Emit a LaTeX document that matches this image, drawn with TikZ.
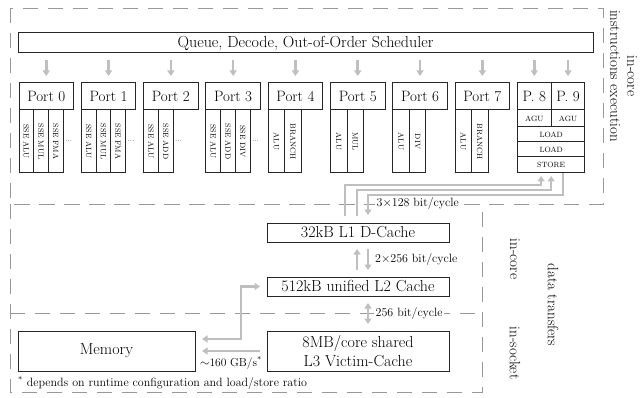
\documentclass[tikz,border=0pt]{standalone}
\usepackage{fontspec}
\usepackage{graphicx}
\usepackage{tikz}
\usetikzlibrary{arrows.meta, positioning, calc}

\begin{document}
\begin{tikzpicture}[
        x=1pt, y=-1pt,
        box/.style={rectangle, draw=black!85, line width=1pt, inner sep=0pt, outer sep=0pt, text centered},
        queue/.style={box, minimum width=575pt, minimum height=20pt, font=\fontsize{16}{18}\selectfont},
        port/.style={box, minimum width=54.5pt, minimum height=27pt, font=\fontsize{15}{18}\selectfont},
        halfport/.style={port, minimum width=33.75pt},
        unit/.style={box, minimum width=14.7pt, minimum height=63pt, anchor=north west, font=\fontsize{7.6}{8}\selectfont},
        wideunit/.style={unit, minimum width=16.5pt},
        agu/.style={box, minimum width=33.75pt, minimum height=17pt, font=\fontsize{7.6}{8}\selectfont},
        lsu/.style={box, minimum width=67.5pt, minimum height=15pt, font=\fontsize{7.6}{8}\selectfont},
        more/.style={inner sep=0pt, font=\fontsize{7}{8}\selectfont},
        cache/.style={box, minimum width=182pt, minimum height=19pt, font=\fontsize{16}{18}\selectfont},
        bigcache/.style={cache, minimum height=40pt, align=center, font=\fontsize{16}{19}\selectfont},
        region/.style={draw=black!40, line width=0.7pt, dash pattern=on 15pt off 10pt},
        flow/.style={draw=black!25, line width=2.6pt, >={Triangle[length=5.5pt,width=7pt]}, ->, shorten >=7pt, shorten <=7pt},
        rate/.style={anchor=west, fill=white, inner sep=1.5pt, font=\fontsize{12}{14}\selectfont},
        side/.style={rotate=-90, align=center, inner sep=0pt, font=\fontsize{15}{17}\selectfont}
    ]

    \useasboundingbox (0,0) rectangle (642,398);

    \draw [region] (10,8) rectangle (603,204);
    \draw [region] (10,204) rectangle (482,392);
    \draw [region] (10,313) -- (482,313);

    \node (queue) [queue, anchor=north west] at (18,33) {Queue, Decode, Out-of-Order Scheduler};

    \node (p0) [port, anchor=north west] at (19,83) {Port 0};
    \node (p1) [port, right=7.8pt of p0] {Port 1};
    \node (p2) [port, right=7.8pt of p1] {Port 2};
    \node (p3) [port, right=7.8pt of p2] {Port 3};
    \node (p4) [port, right=7.8pt of p3] {Port 4};
    \node (p5) [port, right=7.8pt of p4] {Port 5};
    \node (p6) [port, right=7.8pt of p5] {Port 6};
    \node (p7) [port, right=7.8pt of p6] {Port 7};
    \node (p8) [halfport, right=7.8pt of p7] {P. 8};
    \node (p9) [halfport, right=0pt of p8] {P. 9};

    \node (u0a) [unit] at (p0.south west) {\rotatebox{-90}{SSE ALU}};
    \node (u0b) [unit, right=0pt of u0a] {\rotatebox{-90}{SSE MUL}};
    \node (u0c) [unit, right=0pt of u0b] {\rotatebox{-90}{SSE FMA}};
    \node (m0) [more, right=2pt of u0c] {...};

    \node (u1a) [unit] at (p1.south west) {\rotatebox{-90}{SSE ALU}};
    \node (u1b) [unit, right=0pt of u1a] {\rotatebox{-90}{SSE MUL}};
    \node (u1c) [unit, right=0pt of u1b] {\rotatebox{-90}{SSE FMA}};
    \node (m1) [more, right=2pt of u1c] {...};

    \node (u2a) [unit] at (p2.south west) {\rotatebox{-90}{SSE ALU}};
    \node (u2b) [unit, right=0pt of u2a] {\rotatebox{-90}{SSE ADD}};
    \node (m2) [more, right=2pt of u2b] {...};

    \node (u3a) [unit] at (p3.south west) {\rotatebox{-90}{SSE ALU}};
    \node (u3b) [unit, right=0pt of u3a] {\rotatebox{-90}{SSE ADD}};
    \node (u3c) [unit, right=0pt of u3b] {\rotatebox{-90}{SSE DIV}};
    \node (m3) [more, right=2pt of u3c] {...};

    \node (u4a) [wideunit] at (p4.south west) {\rotatebox{-90}{ALU}};
    \node (u4b) [wideunit, right=0pt of u4a] {\rotatebox{-90}{BRANCH}};

    \node (u5a) [wideunit] at (p5.south west) {\rotatebox{-90}{ALU}};
    \node (u5b) [wideunit, right=0pt of u5a] {\rotatebox{-90}{MUL}};

    \node (u6a) [wideunit] at (p6.south west) {\rotatebox{-90}{ALU}};
    \node (u6b) [wideunit, right=0pt of u6a] {\rotatebox{-90}{DIV}};

    \node (u7a) [wideunit] at (p7.south west) {\rotatebox{-90}{ALU}};
    \node (u7b) [wideunit, right=0pt of u7a] {\rotatebox{-90}{BRANCH}};

    \node (agu8) [agu, anchor=north west] at (p8.south west) {AGU};
    \node (agu9) [agu, right=0pt of agu8] {AGU};
    \node (load1) [lsu, anchor=north west] at (agu8.south west) {LOAD};
    \node (load2) [lsu, below=0pt of load1] {LOAD};
    \node (store) [lsu, below=0pt of load2, minimum height=16pt] {STORE};

    \node (l1) [cache, anchor=north west] at (267,223) {32kB L1 D-Cache};
    \node (l2) [cache, below=35pt of l1] {512kB unified L2 Cache};
    \node (l3) [bigcache, below=35pt of l2] {8MB/core shared\\L3 Victim-Cache};
    \node (mem) [bigcache, left=72pt of l3, minimum width=177pt] {Memory};

    \draw [flow] (p0 |- queue.south) -- (p0);
    \draw [flow] (p1 |- queue.south) -- (p1);
    \draw [flow] (p2 |- queue.south) -- (p2);
    \draw [flow] (p3 |- queue.south) -- (p3);
    \draw [flow] (p4 |- queue.south) -- (p4);
    \draw [flow] (p5 |- queue.south) -- (p5);
    \draw [flow] (p6 |- queue.south) -- (p6);
    \draw [flow] (p7 |- queue.south) -- (p7);
    \draw [flow] (p8 |- queue.south) -- (p8);
    \draw [flow] (p9 |- queue.south) -- (p9);

    \draw [flow, shorten >=3pt] ([xshift=-13pt]l1.north) -- ++(0,-38) -| ([xshift=-10pt]store.south);
    \draw [flow, shorten >=3pt] ([xshift=-1pt]l1.north) -- ++(0,-33) -| (store.south);
    \draw [flow, shorten <=0pt, shorten >=8pt] ([xshift=12pt]store.south) -- ++(0,22) -| ([xshift=10pt]l1.north);

    \draw [flow] ([xshift=-1pt]l2.north) -- ([xshift=-1pt]l1.south);
    \draw [flow] ([xshift=10pt]l1.south) -- ([xshift=10pt]l2.north);
    \draw [flow, <->] ([xshift=10pt]l2.south) -- ([xshift=10pt]l3.north);
    \draw [flow, <->] (l2.west) -- ++(-26,0) |- ([yshift=12pt]mem.east);
    \draw [flow] (l3.west) -- (mem.east);

    \node (bw1) [rate] at ([xshift=17pt,yshift=19pt]l1.north) {3$\times$128 bit/cycle};
    \node (bw2) [rate] at ($(l1.south)!0.5!(l2.north)+(15.5,0)$) {2$\times$256 bit/cycle};
    \node (bw3) [rate] at ($(l2.south)!0.5!(l3.north)+(16,0)$) {256 bit/cycle};
    \node (bwmem) [anchor=south, inner sep=1pt, font=\fontsize{11.5}{13}\selectfont] at ($(mem.south east)!0.5!(l3.south west)$) {$\sim$160 GB/s\textsuperscript{*}};
    \node (note) [anchor=north west, inner sep=0pt, font=\fontsize{12}{14}\selectfont] at ([yshift=-5pt]mem.south west) {\textsuperscript{*} depends on runtime configuration and load/store ratio};

    \node (lblexec) [side, anchor=south west] at (610,10) {in-core\\instructions execution};
    \node (lblcore) [side] at (515,259) {in-core};
    \node (lblsock) [side] at (515,353) {in-socket};
    \node (lbldata) [side] at (553,305) {data transfers};

\end{tikzpicture}
\end{document}
